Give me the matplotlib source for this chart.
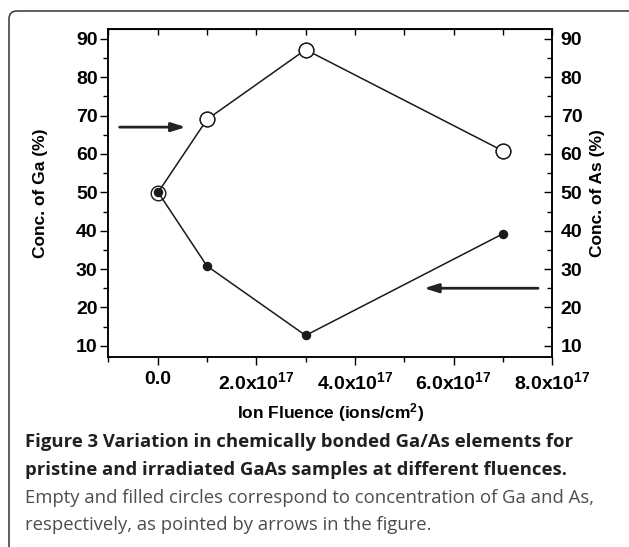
import matplotlib
matplotlib.use('Agg')
import matplotlib.pyplot as plt
from matplotlib.patches import FancyBboxPatch
from matplotlib.transforms import IdentityTransform
from matplotlib.ticker import MultipleLocator, FixedLocator

plt.rcParams['font.family'] = 'Liberation Sans'
plt.rcParams['mathtext.fontset'] = 'custom'
plt.rcParams['mathtext.rm'] = 'Liberation Sans:bold'
plt.rcParams['mathtext.bf'] = 'Liberation Sans:bold'
plt.rcParams['mathtext.default'] = 'rm'

# fluence (ions/cm^2) and concentrations (%)
fluence = [0.0, 1e17, 3e17, 7e17]
conc_ga = [49.8, 69.0, 87.2, 60.8]
conc_as = [50.2, 30.8, 12.7, 39.2]

xtick_vals = [0.0, 2e17, 4e17, 6e17, 8e17]
xtick_labels = ['0.0', '2.0x10$^{17}$', '4.0x10$^{17}$', '6.0x10$^{17}$', '8.0x10$^{17}$']
ytick_vals = [10, 20, 30, 40, 50, 60, 70, 80, 90]

caption_bold = ['Figure 3 Variation in chemically bonded Ga/As elements for',
                'pristine and irradiated GaAs samples at different fluences.']
caption_plain = ['Empty and filled circles correspond to concentration of Ga and As,',
                 'respectively, as pointed by arrows in the figure.']

W, H = 629, 547
fig = plt.figure(figsize=(W / 100, H / 100), dpi=100)

# rounded frame around the figure + caption
frame = FancyBboxPatch((9, -30), 700, H - 11 + 30,
                       boxstyle='round,pad=0,rounding_size=8',
                       transform=IdentityTransform(), fill=False,
                       lw=1.1, ec='#333333')
fig.patches.append(frame)

ax = fig.add_axes([108.3 / W, 1 - 357.3 / H, 444 / W, 328 / H])
ax.set_xlim(-1e17, 8e17)
ax.set_ylim(7.0, 92.5)

ax.plot(fluence, conc_as, '-', color='#1a1a1a', lw=1.1, marker='o', ms=5.8,
        mfc='#1a1a1a', mec='#1a1a1a', zorder=3)
ax.plot(fluence, conc_ga, '-', color='#1a1a1a', lw=1.1, marker='o', ms=10.5,
        mfc='none', mec='#1a1a1a', mew=1.0, zorder=4)
# white fill inside the open circles, hiding the line ends
ax.plot(fluence[1:], conc_ga[1:], 'o', ms=10.5, mfc='white', mec='#1a1a1a',
        mew=1.0, zorder=4)

# arrows pointing at each curve
arrow = dict(arrowstyle='-|>,head_length=0.7,head_width=0.22', lw=2.0,
             color='#222222', shrinkA=0, shrinkB=0, mutation_scale=12)
ax.annotate('', xy=(0.57e17, 67.0), xytext=(-0.77e17, 67.0), arrowprops=arrow)
ax.annotate('', xy=(5.40e17, 25.0), xytext=(7.71e17, 25.0), arrowprops=arrow)

tickfont = dict(fontsize=14, fontweight='bold')
ax.xaxis.set_major_locator(FixedLocator(xtick_vals))
ax.xaxis.set_minor_locator(MultipleLocator(1e17))
ax.set_xticklabels(xtick_labels, **tickfont)
ax.yaxis.set_major_locator(FixedLocator(ytick_vals))
ax.yaxis.set_minor_locator(MultipleLocator(5))
ax.set_yticklabels([str(v) for v in ytick_vals], **tickfont)

ax.tick_params(axis='x', which='both', direction='out', top=False, pad=4)
ax.tick_params(axis='x', which='major', length=6, width=1.0)
ax.tick_params(axis='x', which='minor', length=3.5, width=1.0)
ax.tick_params(axis='y', which='both', direction='out', right=False, pad=1.7)
ax.tick_params(axis='y', which='major', length=6, width=1.0)
ax.tick_params(axis='y', which='minor', length=3.5, width=1.0)
for s in ax.spines.values():
    s.set_linewidth(1.1)

# mirrored top ticks (inward)
axt = ax.secondary_xaxis('top')
axt.xaxis.set_major_locator(FixedLocator(xtick_vals))
axt.xaxis.set_minor_locator(MultipleLocator(1e17))
axt.tick_params(axis='x', which='both', direction='in', labeltop=False, width=1.0)
axt.tick_params(axis='x', which='major', length=4)
axt.tick_params(axis='x', which='minor', length=4)

# right-hand axis for As
ax2 = ax.twinx()
ax2.set_ylim(ax.get_ylim())
ax2.yaxis.set_major_locator(FixedLocator(ytick_vals))
ax2.yaxis.set_minor_locator(MultipleLocator(5))
ax2.set_yticklabels([str(v) for v in ytick_vals], **tickfont)
ax2.tick_params(axis='y', which='both', direction='in', pad=6, width=1.0)
ax2.tick_params(axis='y', which='major', length=6)
ax2.tick_params(axis='y', which='minor', length=3.5)
for s in ax2.spines.values():
    s.set_linewidth(1.1)

labfont = dict(fontsize=12.5, fontweight='bold')
ax.set_ylabel('Conc. of Ga (%)', **labfont)
ax.yaxis.set_label_coords(-0.136, 0.5)
ax2.set_ylabel('Conc. of As (%)', **labfont)
ax2.yaxis.set_label_coords(1.085, 0.5)
ax.set_xlabel('Ion Fluence (ions/cm$^{2}$)', **labfont)
ax.xaxis.set_label_coords(0.5, -0.133)

# caption
y0 = 1 - 442 / H
dy = 27.8 / H
capfont = dict(family='Open Sans', fontsize=13.3, va='center')
fig.text(25 / W, y0, caption_bold[0], fontweight='bold', color='#231f20', **capfont)
fig.text(25 / W, y0 - dy, caption_bold[1], fontweight='bold', color='#231f20', **capfont)
fig.text(25 / W, y0 - 2 * dy, caption_plain[0], color='#4d4d4d', **capfont)
fig.text(25 / W, y0 - 3 * dy, caption_plain[1], color='#4d4d4d', **capfont)

fig.savefig('out.png', dpi=100)
